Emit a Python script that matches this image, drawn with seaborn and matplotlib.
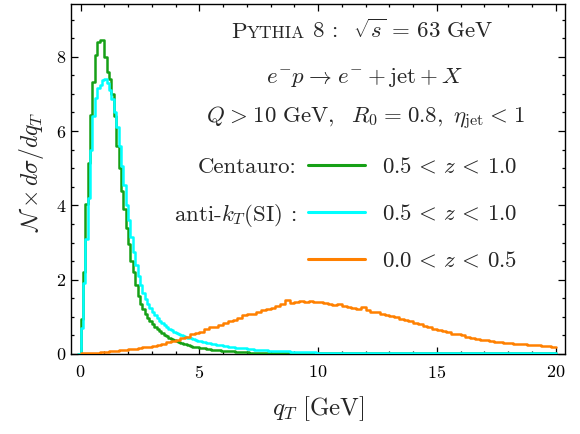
import numpy as np
import matplotlib
matplotlib.use("Agg")
import matplotlib.pyplot as plt
from matplotlib.lines import Line2D
from matplotlib.offsetbox import TextArea, HPacker, AnchoredOffsetbox
from matplotlib.ticker import MultipleLocator
import seaborn as sns

# Pythia 8 histograms, N x dsigma/dq_T per q_T bin
# 0.5 < z < 1.0 samples use 0.1 GeV bins; first bin [-0.1, 0] is empty
fine_start, fine_width = -0.1, 0.1
centauro_hi_z = [
    0.0,
    0.94, 2.2, 4.05, 5.13, 6.43, 7.33, 8.05, 8.41, 8.45, 8.45,
    8.0, 7.6, 7.4, 7.0, 6.4, 5.6, 5.0, 4.4, 3.9, 3.4,
    2.95, 2.5, 2.2, 1.85, 1.55, 1.35, 1.2, 1.08, 0.98, 0.9,
    0.82, 0.74, 0.68, 0.62, 0.57, 0.52, 0.48, 0.44, 0.41, 0.38,
    0.35, 0.33, 0.30, 0.28, 0.26, 0.24, 0.22, 0.20, 0.19, 0.18,
    0.17, 0.16, 0.15, 0.14, 0.13, 0.12, 0.11, 0.11, 0.10, 0.09,
    0.09, 0.08, 0.08, 0.07, 0.07, 0.06, 0.06, 0.06, 0.05, 0.05,
    0.05, 0.04, 0.04, 0.04, 0.04, 0.04, 0.03, 0.03, 0.03, 0.03,
    0.03, 0.03, 0.03, 0.03, 0.03, 0.03, 0.03, 0.02, 0.02, 0.02,
    0.02, 0.02, 0.02, 0.02, 0.02, 0.02, 0.02, 0.02, 0.02, 0.02,
    0.02, 0.02, 0.02, 0.02, 0.02, 0.02, 0.02, 0.02, 0.02, 0.02,
    0.02, 0.02, 0.02, 0.02, 0.02, 0.02, 0.02, 0.02, 0.02, 0.02,
    0.02, 0.02, 0.02, 0.02, 0.02, 0.02, 0.02, 0.02, 0.02, 0.02,
    0.02, 0.02, 0.02, 0.02, 0.02, 0.02, 0.02, 0.02, 0.02, 0.02,
    0.02, 0.02, 0.02, 0.02, 0.02, 0.02, 0.02, 0.02, 0.02, 0.02,
    0.02, 0.02, 0.02, 0.02, 0.02, 0.02, 0.02, 0.02, 0.02, 0.02,
    0.02, 0.02, 0.02, 0.02, 0.02, 0.02, 0.02, 0.02, 0.02, 0.02,
    0.02, 0.02, 0.02, 0.02, 0.02, 0.02, 0.02, 0.02, 0.02, 0.02,
    0.02, 0.02, 0.02, 0.02, 0.02, 0.02, 0.02, 0.02, 0.02, 0.02,
    0.02, 0.02, 0.02, 0.02, 0.02, 0.02, 0.02, 0.02, 0.02, 0.02,
]
antikt_hi_z = [
    0.0,
    0.7, 1.9, 3.1, 4.2, 5.5, 6.4, 6.9, 7.15, 7.25, 7.38,
    7.4, 7.3, 7.1, 6.85, 6.5, 6.1, 5.6, 5.05, 4.55, 4.0,
    3.6, 3.15, 2.75, 2.4, 2.1, 1.85, 1.65, 1.48, 1.35, 1.24,
    1.13, 1.04, 0.96, 0.89, 0.83, 0.78, 0.73, 0.68, 0.64, 0.60,
    0.57, 0.54, 0.51, 0.49, 0.46, 0.44, 0.42, 0.40, 0.38, 0.36,
    0.34, 0.33, 0.31, 0.30, 0.29, 0.27, 0.26, 0.25, 0.24, 0.23,
    0.22, 0.21, 0.20, 0.19, 0.18, 0.17, 0.17, 0.16, 0.15, 0.15,
    0.14, 0.13, 0.13, 0.12, 0.12, 0.11, 0.11, 0.10, 0.10, 0.09,
    0.09, 0.08, 0.08, 0.08, 0.07, 0.07, 0.07, 0.07, 0.06, 0.06,
    0.06, 0.06, 0.06, 0.05, 0.05, 0.05, 0.05, 0.05, 0.05, 0.04,
    0.04, 0.04, 0.04, 0.04, 0.04, 0.04, 0.04, 0.04, 0.04, 0.04,
    0.04, 0.04, 0.04, 0.04, 0.04, 0.03, 0.03, 0.03, 0.03, 0.03,
    0.03, 0.03, 0.03, 0.03, 0.03, 0.03, 0.03, 0.03, 0.03, 0.03,
    0.03, 0.03, 0.03, 0.03, 0.03, 0.03, 0.03, 0.03, 0.03, 0.03,
    0.03, 0.03, 0.03, 0.03, 0.03, 0.03, 0.03, 0.03, 0.03, 0.03,
    0.03, 0.03, 0.03, 0.03, 0.03, 0.03, 0.03, 0.03, 0.03, 0.03,
    0.03, 0.03, 0.03, 0.03, 0.03, 0.03, 0.03, 0.03, 0.03, 0.03,
    0.03, 0.03, 0.03, 0.03, 0.03, 0.03, 0.03, 0.03, 0.03, 0.03,
    0.03, 0.03, 0.03, 0.03, 0.03, 0.03, 0.03, 0.03, 0.03, 0.03,
    0.03, 0.03, 0.03, 0.03, 0.03, 0.03, 0.03, 0.03, 0.03, 0.03,
]
# 0.0 < z < 0.5 uses 0.2 GeV bins from 0 to 20
coarse_start, coarse_width = 0.0, 0.2
all_lo_z = [
    0.02, 0.02, 0.03, 0.04, 0.05, 0.06, 0.08, 0.09, 0.11, 0.12,
    0.13, 0.14, 0.16, 0.18, 0.20, 0.22, 0.25, 0.28, 0.31, 0.35,
    0.38, 0.42, 0.47, 0.53, 0.56, 0.58, 0.66, 0.72, 0.73, 0.78,
    0.84, 0.88, 0.92, 0.97, 1.04, 1.07, 1.09, 1.13, 1.18, 1.22,
    1.24, 1.30, 1.35, 1.44, 1.38, 1.40, 1.42, 1.39, 1.43, 1.41,
    1.40, 1.37, 1.35, 1.33, 1.35, 1.29, 1.27, 1.24, 1.22, 1.26,
    1.18, 1.14, 1.12, 1.08, 1.05, 1.02, 0.99, 0.94, 0.92, 0.88,
    0.84, 0.80, 0.76, 0.72, 0.68, 0.65, 0.62, 0.58, 0.55, 0.53,
    0.50, 0.47, 0.44, 0.41, 0.39, 0.37, 0.35, 0.33, 0.32, 0.30,
    0.29, 0.28, 0.27, 0.26, 0.25, 0.24, 0.23, 0.22, 0.21, 0.19,
]

series_labels = [r"$0.5 \,<\, z \,<\, 1.0$", r"$0.5 \,<\, z \,<\, 1.0$",
                 r"$0.0 \,<\, z \,<\, 0.5$"]
series_colors = ["#16a016", "#00ffff", "#ff8000"]
row_names = ["Centauro:", r"anti-$k_T$(SI) :", ""]


def bin_edges(start, width, n):
    return np.round(start + width * np.arange(n + 1), 3)


sns.set_style("ticks")
plt.rcParams.update({
    "font.family": "serif",
    "font.serif": ["cmr10", "DejaVu Serif"],
    "mathtext.fontset": "cm",
    "axes.formatter.use_mathtext": True,
    "axes.unicode_minus": False,
    "axes.edgecolor": "black",
    "axes.linewidth": 1.0,
    "xtick.color": "black",
    "ytick.color": "black",
})

fig = plt.figure(figsize=(5.8, 4.34), dpi=100)
ax = fig.add_axes([71 / 580, 80 / 434, 494 / 580, 350 / 434])

hists = [
    (centauro_hi_z, fine_start, fine_width),
    (antikt_hi_z, fine_start, fine_width),
    (all_lo_z, coarse_start, coarse_width),
]
for (vals, start, width), color in zip(hists, series_colors):
    edges = bin_edges(start, width, len(vals))
    centers = (edges[:-1] + edges[1:]) / 2
    sns.histplot(x=centers, weights=vals, bins=edges.tolist(), element="step",
                 fill=False, color=color, lw=1.8, ax=ax)
for line in ax.lines:
    line.set_zorder(3)

ax.set_xlim(-0.4, 20.4)
ax.set_ylim(0, 9.42)
ax.xaxis.set_major_locator(MultipleLocator(5))
ax.xaxis.set_minor_locator(MultipleLocator(1))
ax.yaxis.set_major_locator(MultipleLocator(2))
ax.yaxis.set_minor_locator(MultipleLocator(0.5))
ax.tick_params(which="both", direction="in", top=True, right=True,
               labelsize=13, width=0.9)
ax.tick_params(which="major", length=5)
ax.tick_params(which="minor", length=2.5)
ax.tick_params(axis="x", pad=7)

ax.set_xlabel(r"$q_T\ [\mathrm{GeV}]$", fontsize=18, labelpad=10)
ax.set_ylabel(r"$\mathcal{N}\times d\sigma/dq_T$", fontsize=17)
ax.yaxis.set_label_coords(-0.05, 0.52)

# header lines
big, small = 16.5, 12.5
sp = r"\hspace{0.07}"
title_box = HPacker(children=[
    TextArea("P", textprops=dict(size=big)),
    TextArea("YTHIA", textprops=dict(size=small)),
    TextArea(r" 8 :  $\sqrt{s} \,=\, 63\ \mathrm{GeV}$", textprops=dict(size=big)),
], align="baseline", pad=0, sep=0)
ax.add_artist(AnchoredOffsetbox(loc="center", child=title_box, pad=0, borderpad=0,
                                frameon=False, bbox_to_anchor=(0.589, 0.924),
                                bbox_transform=ax.transAxes))
ax.text(0.593, 0.79,
        r"$e^{-}p" + sp + r"\rightarrow" + sp + r"e^{-} + \mathrm{jet} + X$",
        transform=ax.transAxes, ha="center", va="center", fontsize=big)
ax.text(0.595, 0.672,
        r"$Q" + sp + ">" + sp + r"10\ \mathrm{GeV},\ \ R_0" + sp + "=" + sp
        + r"0.8,\ \eta_{\mathrm{jet}}" + sp + "<" + sp + "1$",
        transform=ax.transAxes, ha="center", va="center", fontsize=big)

handles = [Line2D([], [], color=c, lw=2.2) for c in series_colors]
ax.legend(handles, series_labels, loc="upper left", bbox_to_anchor=(0.48, 0.563),
          frameon=False, fontsize=big, handlelength=2.5, handletextpad=0.72,
          labelspacing=1.17, borderpad=0, borderaxespad=0)
for name, yy in zip(row_names, [0.534, 0.397, 0.263]):
    if name:
        ax.text(0.457, yy, name, transform=ax.transAxes, ha="right",
                va="center", fontsize=big)

fig.savefig("out.png", dpi=100)
